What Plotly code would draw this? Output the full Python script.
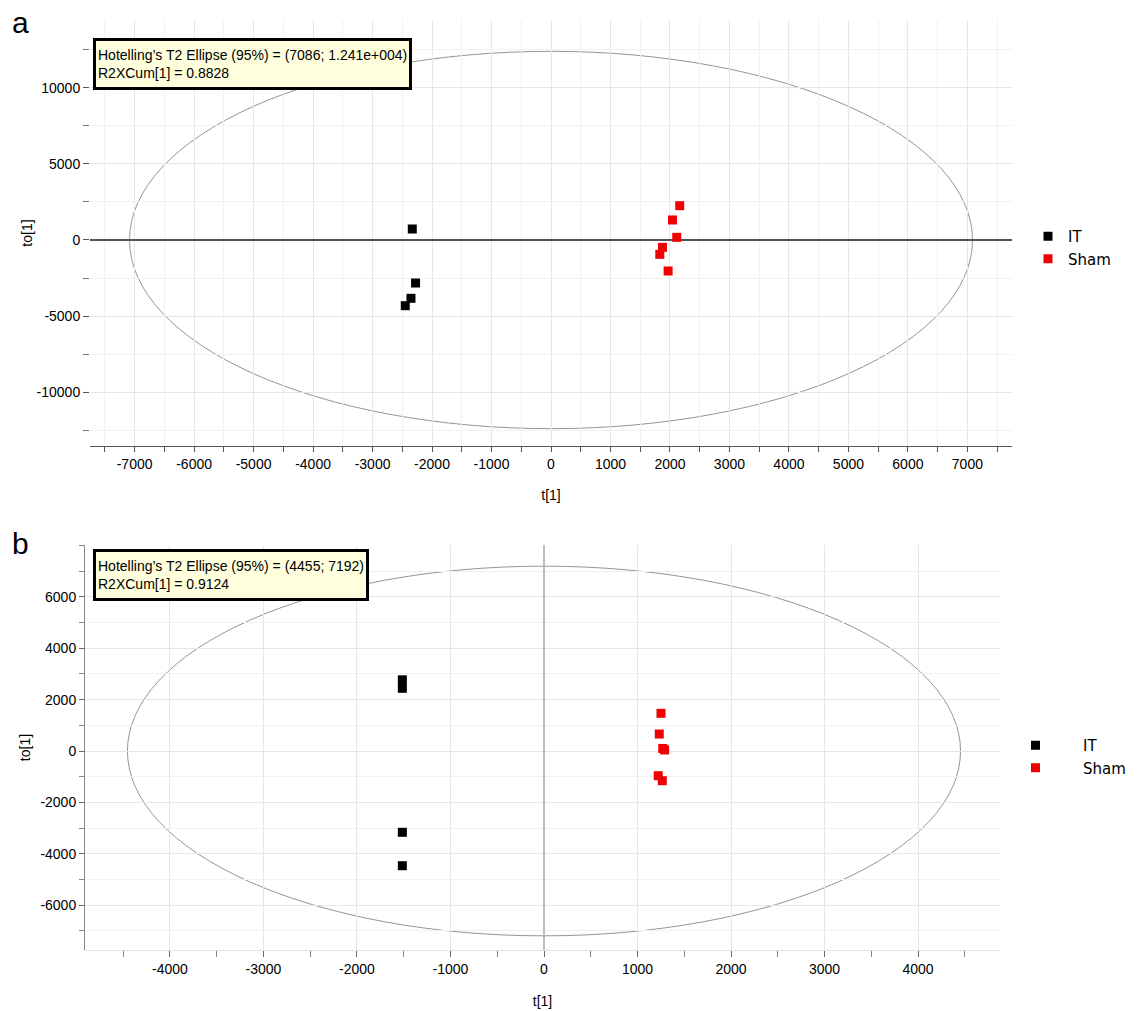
import plotly.graph_objects as go

# ---------------- data ----------------
a_it_x = [-2332, -2277, -2354, -2450]
a_it_y = [724, -2829, -3836, -4322]
a_sham_x = [2164, 2042, 2114, 1874, 1829, 1969]
a_sham_y = [2257, 1316, 175, -484, -944, -2039]

b_it_x = [-1515, -1515, -1515, -1515]
b_it_y = [2770, 2440, -3163, -4463]
b_sham_x = [1251, 1233, 1270, 1290, 1222, 1265]
b_sham_y = [1467, 661, 100, 40, -961, -1156]

a_ellipse = [7086, 12410]
a_ellipse_label = "(7086; 1.241e+004)"
a_r2x = "0.8828"
b_ellipse = [4455, 7192]
b_ellipse_label = "(4455; 7192)"
b_r2x = "0.9124"

# tick labels
a_xticks = [-7000, -6000, -5000, -4000, -3000, -2000, -1000, 0,
            1000, 2000, 3000, 4000, 5000, 6000, 7000]
a_xtext = ["-7000", "-6000", "-5000", "-4000", "-3000", "-2000", "-1000", "0",
           "1000", "2000", "3000", "4000", "5000", "6000", "7000"]
a_yticks = [-10000, -5000, 0, 5000, 10000]
a_ytext = ["-10000", "-5000", "0", "5000", "10000"]
b_xticks = [-4000, -3000, -2000, -1000, 0, 1000, 2000, 3000, 4000]
b_xtext = ["-4000", "-3000", "-2000", "-1000", "0", "1000", "2000", "3000", "4000"]
b_yticks = [-6000, -4000, -2000, 0, 2000, 4000, 6000]
b_ytext = ["-6000", "-4000", "-2000", "0", "2000", "4000", "6000"]

colors = {"IT": "#000000", "Sham": "#f00000"}

W, H = 1139, 1011
def px(x):
    return x / W
def py(y):
    return 1 - y / H

TICKFONT = dict(family="Liberation Sans, Arial", size=14, color="black")
LEGFONT = dict(family="DejaVu Sans, Verdana", size=15, color="black")

fig = go.Figure()

def add_group(xs, ys, name, xa, ya, leg):
    fig.add_trace(go.Scatter(
        x=xs, y=ys, mode="markers", name=name,
        marker=dict(symbol="square", size=9, color=colors[name]),
        xaxis=xa, yaxis=ya, legend=leg, showlegend=True))

add_group(a_it_x, a_it_y, "IT", "x", "y", "legend")
add_group(a_sham_x, a_sham_y, "Sham", "x", "y", "legend")
add_group(b_it_x, b_it_y, "IT", "x2", "y2", "legend2")
add_group(b_sham_x, b_sham_y, "Sham", "x2", "y2", "legend2")

# Hotelling T2 ellipses
for (ax, ay), (xr, yr) in [((a_ellipse[0], a_ellipse[1]), ("x", "y")),
                           ((b_ellipse[0], b_ellipse[1]), ("x2", "y2"))]:
    fig.add_shape(type="circle", xref=xr, yref=yr, x0=-ax, x1=ax, y0=-ay, y1=ay,
                  line=dict(color="#959595", width=1), layer="below")

grid_major = "#e6e6e6"
grid_minor = "#f1f1f1"

fig.update_layout(
    width=W, height=H,
    margin=dict(l=0, r=0, t=0, b=0),
    paper_bgcolor="white", plot_bgcolor="white",
    showlegend=True,
    xaxis=dict(
        domain=[px(90), px(1012)], anchor="y", range=[-7750, 7750],
        tickmode="array", tickvals=a_xticks, ticktext=a_xtext,
        ticks="outside", ticklen=5, tickcolor="#555",
        showgrid=True, gridcolor=grid_major, zeroline=False,
        showline=True, linecolor="#555", linewidth=1,
        tickfont=TICKFONT, automargin=False,
        minor=dict(dtick=500, tick0=0, ticks="outside", ticklen=5, tickcolor="#555",
                   showgrid=True, gridcolor=grid_minor),
        title=dict(text="t[1]", font=TICKFONT, standoff=19),
    ),
    yaxis=dict(
        domain=[py(446), py(20)], anchor="x", range=[-13550, 14470],
        tickmode="array", tickvals=a_yticks, ticktext=a_ytext,
        ticks="outside", ticklen=6, tickcolor="#555",
        showgrid=True, gridcolor=grid_major,
        zeroline=True, zerolinecolor="#555", zerolinewidth=1.5,
        showline=False, tickfont=TICKFONT, automargin=False,
        minor=dict(dtick=2500, tick0=0, ticks="outside", ticklen=6, tickcolor="#777",
                   showgrid=True, gridcolor=grid_minor),
        title=dict(text="to[1]", font=TICKFONT, standoff=0),
    ),
    xaxis2=dict(
        domain=[px(85), px(1000)], anchor="y2", range=[-4909, 4877],
        tickmode="array", tickvals=b_xticks, ticktext=b_xtext,
        ticks="outside", ticklen=6, tickcolor="#666",
        showgrid=True, gridcolor=grid_major,
        zeroline=True, zerolinecolor="#bdbdbd", zerolinewidth=2,
        showline=True, linecolor="#e2e2e2", linewidth=1,
        tickfont=TICKFONT, automargin=False,
        minor=dict(dtick=500, tick0=0, ticks="outside", ticklen=6, tickcolor="#888",
                   showgrid=False),
        title=dict(text="t[1]", font=TICKFONT, standoff=20),
    ),
    yaxis2=dict(
        domain=[py(950), py(545)], anchor="x2", range=[-7743, 8016],
        tickmode="array", tickvals=b_yticks, ticktext=b_ytext,
        ticks="outside", ticklen=5, tickcolor="#666",
        showgrid=True, gridcolor=grid_major, zeroline=False,
        showline=True, linecolor="#888", linewidth=1,
        tickfont=TICKFONT, automargin=False,
        minor=dict(dtick=1000, tick0=0, ticks="outside", ticklen=5, tickcolor="#888",
                   showgrid=True, gridcolor=grid_minor),
        title=dict(text="to[1]", font=TICKFONT, standoff=6),
    ),
    legend=dict(x=px(1028), y=py(220), xanchor="left", yanchor="top",
                font=LEGFONT, bgcolor="rgba(0,0,0,0)", tracegroupgap=0),
    legend2=dict(x=px(988), y=py(729), xanchor="left", yanchor="top",
                 font=LEGFONT, bgcolor="rgba(0,0,0,0)", tracegroupgap=0,
                 itemwidth=85),
)

BOXFONT = dict(family="Liberation Sans, Arial", size=14, color="black")
fig.add_annotation(
    xref="paper", yref="paper", x=px(93), y=py(38), xanchor="left", yanchor="top",
    text=f"Hotelling\u2019s T2 Ellipse (95%) = {a_ellipse_label}<br>R2XCum[1] = {a_r2x}",
    align="left", showarrow=False, font=BOXFONT, height=42,
    bgcolor="#ffffdd", bordercolor="black", borderwidth=3, borderpad=2)
fig.add_annotation(
    xref="paper", yref="paper", x=px(93), y=py(549), xanchor="left", yanchor="top",
    text=f"Hotelling\u2019s T2 Ellipse (95%) = {b_ellipse_label}<br>R2XCum[1] = {b_r2x}",
    align="left", showarrow=False, font=BOXFONT, height=42,
    bgcolor="#ffffdd", bordercolor="black", borderwidth=3, borderpad=2)

for letter, yy in [("a", 22), ("b", 543)]:
    fig.add_annotation(xref="paper", yref="paper", x=px(20), y=py(yy),
                       xanchor="center", yanchor="middle", text=letter,
                       showarrow=False,
                       font=dict(family="Liberation Sans, Arial", size=30, color="black"))

fig.write_html("out.html",
               config={"displayModeBar": False},
               post_script="document.body.style.margin='0px';document.body.style.overflow='hidden';")
